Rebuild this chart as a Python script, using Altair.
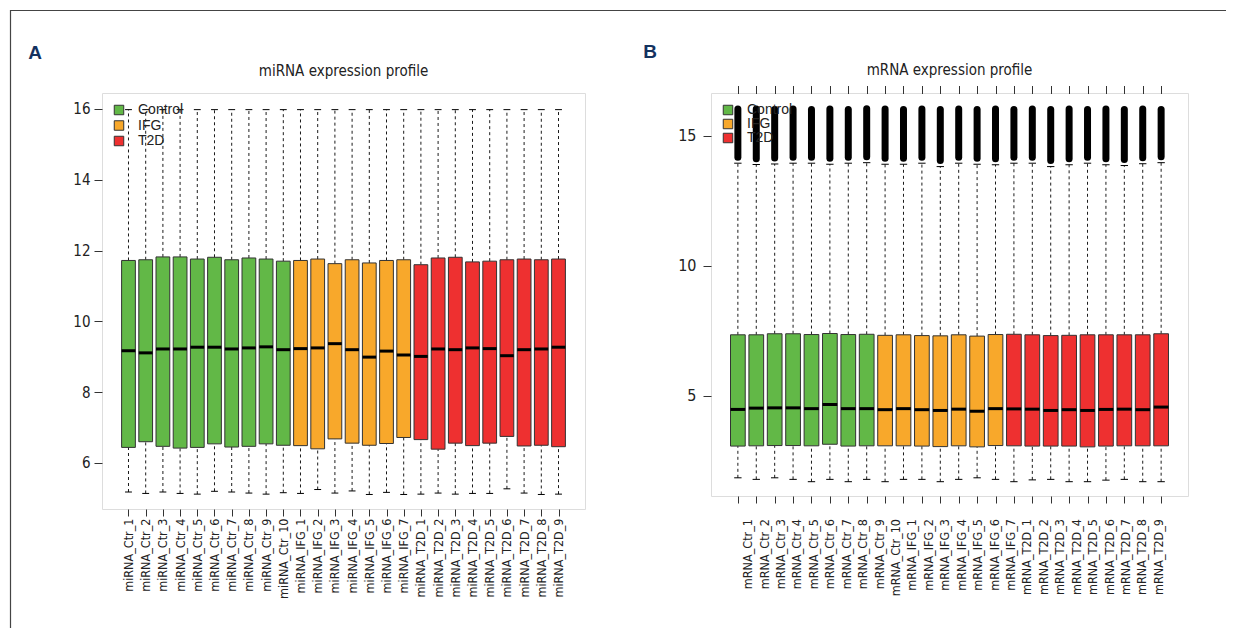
import altair as alt
import pandas as pd

FONT = "DejaVu Sans Condensed, Liberation Sans Narrow, sans-serif"
LEG_FONT = "Liberation Sans, Arial, sans-serif"

GROUPS = ["Control", "IFG", "T2D"]
COLORS = ["#62b847", "#f8a82b", "#ee3030"]
panel_letters = ["A", "B"]
titles = ["miRNA expression profile", "mRNA expression profile"]

# ---------------- miRNA panel (26 samples) ----------------
mi_labels = ["miRNA_Ctr_1", "miRNA_Ctr_2", "miRNA_Ctr_3", "miRNA_Ctr_4", "miRNA_Ctr_5",
             "miRNA_Ctr_6", "miRNA_Ctr_7", "miRNA_Ctr_8", "miRNA_Ctr_9", "miRNA_Ctr_10",
             "miRNA_IFG_1", "miRNA_IFG_2", "miRNA_IFG_3", "miRNA_IFG_4", "miRNA_IFG_5",
             "miRNA_IFG_6", "miRNA_IFG_7",
             "miRNA_T2D_1", "miRNA_T2D_2", "miRNA_T2D_3", "miRNA_T2D_4", "miRNA_T2D_5",
             "miRNA_T2D_6", "miRNA_T2D_7", "miRNA_T2D_8", "miRNA_T2D_9"]
mi_groups = ["Control"] * 10 + ["IFG"] * 7 + ["T2D"] * 9
mi_hi = [15.98, 15.98, 15.98, 15.98, 15.98, 15.98, 15.98, 15.98, 15.98, 15.98,
         15.98, 15.98, 15.98, 15.98, 15.98, 15.98, 15.98,
         15.98, 15.98, 15.98, 15.98, 15.98, 15.98, 15.98, 15.98, 15.98]
mi_q3 = [11.72, 11.74, 11.82, 11.82, 11.76, 11.81, 11.74, 11.79, 11.76, 11.70,
         11.72, 11.76, 11.63, 11.74, 11.65, 11.72, 11.74,
         11.60, 11.79, 11.81, 11.68, 11.70, 11.74, 11.76, 11.74, 11.76]
mi_med = [9.17, 9.11, 9.22, 9.22, 9.27, 9.27, 9.22, 9.25, 9.28, 9.20,
          9.23, 9.25, 9.37, 9.20, 8.99, 9.16, 9.05,
          9.01, 9.22, 9.20, 9.25, 9.23, 9.03, 9.20, 9.22, 9.27]
mi_q1 = [6.44, 6.60, 6.47, 6.42, 6.44, 6.54, 6.45, 6.47, 6.54, 6.50,
         6.49, 6.40, 6.68, 6.56, 6.50, 6.55, 6.72,
         6.66, 6.39, 6.56, 6.49, 6.56, 6.75, 6.48, 6.50, 6.46]
mi_lo = [5.18, 5.14, 5.18, 5.14, 5.12, 5.20, 5.18, 5.15, 5.12, 5.16,
         5.14, 5.25, 5.15, 5.21, 5.11, 5.17, 5.11,
         5.12, 5.15, 5.12, 5.14, 5.14, 5.27, 5.15, 5.11, 5.12]

# ---------------- mRNA panel (24 boxes, 26 axis labels) ----------------
mr_labels = ["mRNA_Ctr_1", "mRNA_Ctr_2", "mRNA_Ctr_3", "mRNA_Ctr_4", "mRNA_Ctr_5",
             "mRNA_Ctr_6", "mRNA_Ctr_7", "mRNA_Ctr_8", "mRNA_Ctr_9", "mRNA_Ctr_10",
             "mRNA_IFG_1", "mRNA_IFG_2", "mRNA_IFG_3", "mRNA_IFG_4", "mRNA_IFG_5",
             "mRNA_IFG_6", "mRNA_IFG_7",
             "mRNA_T2D_1", "mRNA_T2D_2", "mRNA_T2D_3", "mRNA_T2D_4", "mRNA_T2D_5",
             "mRNA_T2D_6", "mRNA_T2D_7", "mRNA_T2D_8", "mRNA_T2D_9"]
mr_groups = ["Control"] * 8 + ["IFG"] * 7 + ["T2D"] * 9
mr_out_hi = [16.03, 16.03, 16.02, 16.03, 16.02, 16.03, 16.02, 16.04,
             16.03, 16.02, 16.03, 16.02, 16.03, 16.02, 16.03,
             16.02, 16.03, 16.02, 16.03, 16.02, 16.03, 16.02, 16.03, 16.02]
mr_out_lo = [14.18, 14.12, 14.15, 14.18, 14.18, 14.14, 14.18, 14.20,
             14.14, 14.14, 14.18, 14.05, 14.18, 14.14, 14.12,
             14.18, 14.18, 14.05, 14.12, 14.18, 14.12, 14.09, 14.16, 14.20]
mr_hi = [13.95, 13.90, 13.92, 13.95, 13.95, 13.91, 13.95, 13.97,
         13.91, 13.91, 13.95, 13.82, 13.95, 13.91, 13.89,
         13.95, 13.95, 13.82, 13.89, 13.95, 13.89, 13.86, 13.93, 13.97]
mr_q3 = [7.35, 7.35, 7.39, 7.39, 7.36, 7.40, 7.36, 7.37,
         7.33, 7.35, 7.32, 7.31, 7.35, 7.30, 7.36,
         7.37, 7.35, 7.32, 7.33, 7.35, 7.35, 7.35, 7.35, 7.39]
mr_med = [4.48, 4.53, 4.54, 4.54, 4.51, 4.67, 4.51, 4.51,
          4.47, 4.51, 4.47, 4.44, 4.49, 4.41, 4.51,
          4.50, 4.49, 4.44, 4.47, 4.44, 4.48, 4.49, 4.47, 4.57]
mr_q1 = [3.07, 3.08, 3.09, 3.09, 3.08, 3.14, 3.07, 3.08,
         3.08, 3.08, 3.07, 3.05, 3.08, 3.04, 3.09,
         3.08, 3.07, 3.07, 3.07, 3.04, 3.07, 3.08, 3.08, 3.08]
mr_lo = [1.85, 1.79, 1.85, 1.79, 1.70, 1.79, 1.70, 1.79,
         1.70, 1.79, 1.79, 1.70, 1.79, 1.85, 1.79,
         1.70, 1.77, 1.79, 1.70, 1.70, 1.76, 1.79, 1.70, 1.70]

mi_df = pd.DataFrame({"pos": list(range(1, len(mi_labels) + 1)), "group": mi_groups,
                      "lo": mi_lo, "q1": mi_q1, "med": mi_med, "q3": mi_q3, "hi": mi_hi})
mr_df = pd.DataFrame({"pos": list(range(1, len(mr_groups) + 1)), "group": mr_groups,
                      "lo": mr_lo, "q1": mr_q1, "med": mr_med, "q3": mr_q3, "hi": mr_hi,
                      "olo": mr_out_lo, "ohi": mr_out_hi})
mr_lab_df = pd.DataFrame({"label": mr_labels})

color_scale = alt.Scale(domain=GROUPS, range=COLORS)


def legend(row_pad, off):
    return alt.Legend(orient="top-left", title=None, symbolType="square", symbolSize=90,
                      symbolStrokeColor="#333", symbolStrokeWidth=1, symbolOpacity=1,
                      labelFont=LEG_FONT, labelFontSize=14, labelColor="#222",
                      labelOffset=12, rowPadding=row_pad, offset=off, padding=0)


def box_layers(df, x_axis, y_axis, xdom, ydom, leg, outliers=False):
    xs = alt.Scale(domain=xdom, nice=False, zero=False)
    ys = alt.Scale(domain=ydom, nice=False, zero=False)
    base = alt.Chart(df).transform_calculate(
        xl="datum.pos - 0.4", xr="datum.pos + 0.4",
        cl="datum.pos - 0.2", cr="datum.pos + 0.2")
    X = lambda f: alt.X(f, scale=xs, axis=x_axis, title=None)
    Y = lambda f: alt.Y(f, scale=ys, axis=y_axis, title=None)
    layers = [
        base.mark_rule(color="black", strokeWidth=0.9, strokeDash=[3, 3]).encode(
            x=X("pos:Q"), y=Y("lo:Q"), y2="q1:Q"),
        base.mark_rule(color="black", strokeWidth=0.9, strokeDash=[3, 3]).encode(
            x=X("pos:Q"), y=Y("q3:Q"), y2="hi:Q"),
        base.mark_rule(color="black", strokeWidth=1).encode(
            x=X("cl:Q"), x2="cr:Q", y=Y("lo:Q")),
        base.mark_rule(color="black", strokeWidth=1).encode(
            x=X("cl:Q"), x2="cr:Q", y=Y("hi:Q")),
        base.mark_bar(stroke="#333", strokeWidth=1, opacity=1).encode(
            x=X("xl:Q"), x2="xr:Q", y=Y("q1:Q"), y2="q3:Q",
            color=alt.Color("group:N", scale=color_scale, legend=leg)),
        base.mark_rule(color="black", strokeWidth=3).encode(
            x=X("xl:Q"), x2="xr:Q", y=Y("med:Q")),
    ]
    if outliers:
        layers.append(base.mark_rule(color="black", strokeWidth=7, strokeCap="round").encode(
            x=X("pos:Q"), y=Y("olo:Q"), y2="ohi:Q"))
    return layers


def text_mark(t, dx, dy, font, size, weight="normal", color="#222", align="center"):
    return alt.Chart(pd.DataFrame({"t": [t]})).mark_text(
        font=font, fontWeight=weight, fontSize=size, color=color,
        align=align, baseline="alphabetic").encode(
        x=alt.value(dx), y=alt.value(dy), text="t:N")


# outer figure frame (top and left edges)
frame = alt.Chart(pd.DataFrame({"k": [0]}))
frame_top = frame.mark_rule(color="#444", strokeWidth=1.2).encode(
    x=alt.value(-92), x2=alt.value(1124), y=alt.value(-82.5))
frame_left = frame.mark_rule(color="#444", strokeWidth=1.2).encode(
    x=alt.value(-91.5), y=alt.value(-83), y2=alt.value(535))

# left panel
LW, LH = 483, 416
mi_label_expr = "[" + ",".join("'%s'" % s for s in mi_labels) + "][datum.value - 1]"
mi_xaxis = alt.Axis(values=list(range(1, len(mi_labels) + 1)), labelExpr=mi_label_expr,
                    labelAngle=270, labelFont=FONT, labelFontSize=12.5, labelColor="#222",
                    labelPadding=2, tickSize=7, tickColor="#333", domain=False, grid=False,
                    labelOverlap=False, labelFlush=False)
mi_yaxis = alt.Axis(values=[6, 8, 10, 12, 14, 16], labelFont=FONT, labelFontSize=15,
                    labelColor="#222", labelPadding=4, tickSize=8, tickColor="#333",
                    domain=False, grid=False)
left = alt.layer(
    *box_layers(mi_df, mi_xaxis, mi_yaxis, [-0.54, 27.54], [4.7, 16.45], legend(1.5, 10)),
    text_mark(titles[0], LW / 2, -17, FONT, 15),
    text_mark(panel_letters[0], -67, -34, LEG_FONT, 19, "bold", "#14325f"),
    frame_top, frame_left,
).properties(width=LW, height=LH)

# right panel
RW, RH = 477, 403
mr_xaxis = alt.Axis(values=list(range(1, len(mr_groups) + 1)), labels=False,
                    tickSize=7, tickColor="#333", domain=False, grid=False)
mr_yaxis = alt.Axis(values=[5, 10, 15], labelFont=FONT, labelFontSize=16,
                    labelColor="#222", labelPadding=7, tickSize=8, tickColor="#333",
                    domain=False, grid=False)
mr_text = alt.Chart(mr_lab_df).mark_text(
    angle=270, align="right", baseline="middle", font=FONT, fontSize=12.5, color="#222").encode(
    x=alt.X("label:N", sort=None, scale=alt.Scale(type="point", range=[29, 456]), axis=None),
    y=alt.value(426), text="label:N")
right = alt.layer(
    *box_layers(mr_df, mr_xaxis, mr_yaxis, [-0.46, 25.46], [1.15, 16.65], legend(0, 10),
                outliers=True),
    mr_text,
    text_mark(titles[1], RW / 2, -18, FONT, 15),
    text_mark(panel_letters[1], -61, -35, LEG_FONT, 19, "bold", "#14325f"),
).resolve_scale(x="independent").properties(width=RW, height=RH)

chart = alt.hconcat(left, right, spacing=126, bounds="flush").resolve_scale(
    color="independent").properties(padding=0).configure_view(
    stroke="#444", strokeWidth=1).configure(background="white")

chart.save("out.html", embed_options={"renderer": "svg", "actions": False})
